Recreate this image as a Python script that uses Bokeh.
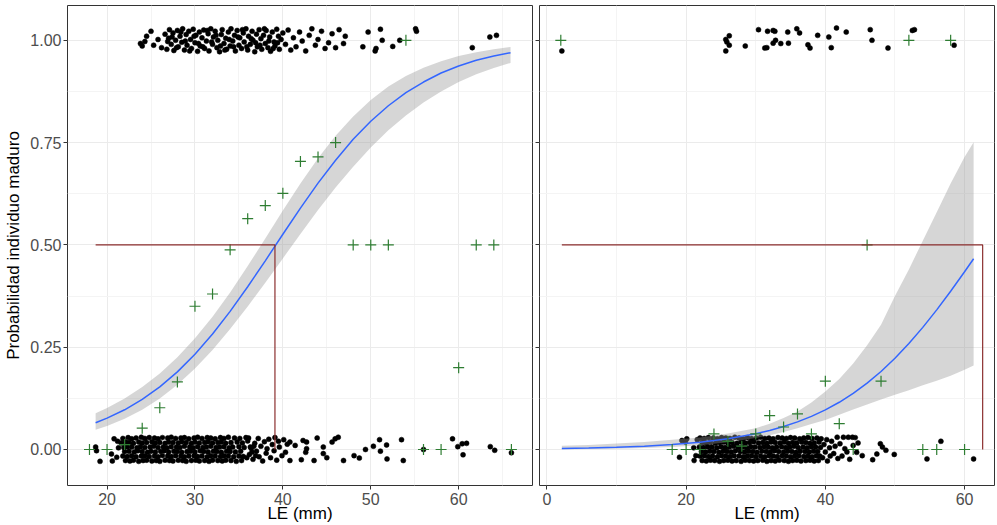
from bokeh.plotting import figure
from bokeh.layouts import row
from bokeh.models import Range1d, FixedTicker, NumeralTickFormatter
from bokeh.embed import file_html
from bokeh.resources import INLINE

# ---------------- data ----------------
y_ticks = [0.0, 0.25, 0.5, 0.75, 1.0]
y_tick_labels = ["0.00", "0.25", "0.50", "0.75", "1.00"]
y_minor = [0.125, 0.375, 0.625, 0.875]
xA_ticks = [20, 30, 40, 50, 60]
xA_minor = [25, 35, 45, 55, 65]
xB_ticks = [0, 20, 40, 60]
xB_minor = [10, 30, 50]

# observed proportion of mature individuals per 2-mm class
clase_A = [18, 20, 22, 24, 26, 28, 30, 32, 34, 36, 38, 40, 42, 44, 46, 48, 50, 52, 54, 56, 58, 60, 62, 64, 66]
prop_A = [0, 0, 0.012, 0.052, 0.102, 0.165, 0.35, 0.38, 0.488, 0.564, 0.596, 0.626, 0.704, 0.715, 0.75,
          0.5, 0.5, 0.5, 1.0, 0, 0, 0.2, 0.5, 0.5, 0]
clase_B = [2, 18, 20, 22, 24, 26, 28, 30, 32, 34, 36, 38, 40, 42, 44, 46, 48, 52, 54, 56, 58, 60]
prop_B = [1.0, 0, 0, 0.0, 0.038, 0.02, 0.008, 0.038, 0.083, 0.055, 0.087, 0.038, 0.167, 0.063, 0.0,
          0.5, 0.167, 1.0, 0, 0, 1.0, 0]

# fitted logistic curve and its confidence band
le_fit_A = [18.7, 20, 22, 24, 26, 28, 30, 32, 34, 36, 38, 40, 42, 44, 46, 48, 50, 52, 54, 56, 58, 60, 62, 64, 65.9]
p_fit_A = [.0655, .0766, .0970, .1224, .1529, .1897, .2327, .2821, .3375, .3977, .4611, .5260, .5900, .6510,
           .7070, .7580, .8020, .8400, .8720, .8980, .9200, .9370, .9510, .9615, .9696]
lo_A = [.0481, .0574, .0750, .0974, .1248, .1582, .1978, .2433, .2942, .3493, .4073, .4670, .5265, .5850,
        .6400, .6910, .7380, .7800, .8160, .8480, .8750, .8980, .9170, .9320, .9447]
hi_A = [.0884, .1014, .1245, .1527, .1860, .2255, .2717, .3245, .3839, .4482, .5157, .5840, .6500, .7120,
        .7670, .8140, .8540, .8870, .9130, .9330, .9490, .9616, .9710, .9780, .9835]

le_fit_B = [2.15, 6, 10, 14, 18, 22, 26, 30, 32, 34, 36, 38, 40, 42, 44, 46, 48, 50, 52, 54, 56, 58, 60, 61.3]
p_fit_B = [.0026, .0038, .0056, .0082, .0121, .0179, .0263, .0384, .0464, .0560, .0674, .0809, .0967, .1154,
           .1370, .1620, .1906, .2229, .2589, .2984, .3412, .3868, .4344, .4660]
lo_B = [.0007, .0012, .0020, .0035, .0062, .0105, .0175, .0280, .0350, .0430, .0520, .0620, .0720, .0850,
        .0980, .1100, .1220, .1340, .1450, .1570, .1680, .1800, .1950, .2050]
hi_B = [.0090, .0110, .0145, .0185, .0235, .0295, .0390, .0520, .0630, .0770, .0930, .1150, .1420, .1720,
        .2100, .2550, .3050, .3750, .4400, .5100, .5800, .6500, .7150, .7510]

# L50 reference lines (size at 50 % maturity)
l50_x_A = [18.7, 39.1, 39.1]
l50_y_A = [0.5, 0.5, 0.0]
l50_x_B = [2.15, 62.6, 62.6]
l50_y_B = [0.5, 0.5, 0.0]

# individual observations: "LE:jitter" (jitter in thousandths around 0 or 1)
inm_A = """
18.7:6 18.8:-3 19.2:-29 20.5:-11 20.6:-28 20.8:26 21.2:20 21.1:-19 21.3:4
21.8:27 22.4:29 22.8:26 23.3:28 23.9:30 24.3:27 24.8:29 25.4:28 25.8:26 26.3:29 26.9:28 27.3:30 27.8:27
28.4:28 28.8:29 29.3:26 29.9:28 30.3:30 30.8:27 31.4:29 31.8:28 32.3:26 32.9:29 33.3:27 33.8:30 34.5:28
35.1:27 35.8:29
21.6:16 22.1:18 22.5:17 23.0:15 23.6:18 24.0:16 24.5:17 25.1:19 25.5:16 26.0:17 26.6:15 27.0:18 27.5:17
28.1:16 28.5:19 29.0:17 29.6:15 30.0:18 30.5:16 31.1:17 31.5:19 32.0:16 32.6:17 33.0:18 33.5:15 34.1:17
34.8:18 35.4:16
21.9:5 22.3:7 22.8:6 23.4:4 23.8:7 24.3:5 24.9:6 25.3:8 25.8:5 26.4:6 26.8:4 27.3:7 27.9:6 28.3:5 28.8:8
29.4:6 29.8:4 30.3:7 30.9:5 31.3:6 31.8:8 32.4:5 32.8:6 33.3:7 33.9:4 34.3:6 35.0:7 35.6:5 36.3:6
22.0:-5 22.5:-4 23.1:-6 23.5:-3 24.0:-5 24.6:-7 25.0:-4 25.5:-6 26.1:-5 26.5:-3 27.0:-6 27.6:-4 28.0:-5
28.5:-7 29.1:-5 29.5:-4 30.0:-6 30.6:-3 31.0:-5 31.5:-6 32.1:-4 32.5:-5 33.0:-7 33.6:-4 34.0:-5 34.6:-6
35.2:-4
21.8:-16 22.3:-17 22.8:-15 23.3:-18 23.9:-16 24.3:-15 24.8:-17 25.4:-16 25.8:-18 26.3:-15 26.9:-16
27.3:-17 27.8:-15 28.4:-16 28.8:-18 29.3:-16 29.9:-15 30.3:-17 30.8:-16 31.4:-18 31.8:-15 32.3:-16
32.9:-17 33.3:-15 33.8:-16 34.4:-18 35.0:-16 35.5:-17
22.1:-27 22.6:-28 23.0:-26 23.6:-29 24.1:-27 24.5:-26 25.1:-28 25.6:-27 26.0:-29 26.6:-26 27.1:-27
27.5:-28 28.1:-26 28.6:-27 29.0:-29 29.6:-27 30.1:-26 30.5:-28 31.1:-27 31.6:-29 32.0:-26 32.6:-27
33.1:-28 33.5:-26 34.1:-27 34.7:-29 35.3:-27
36.0:21 36.2:-12 36.4:3 36.6:-24 36.8:15 37.0:-4 37.2:27 37.3:-18 37.5:8 37.7:-28 37.9:19 38.1:-9 38.2:2
38.4:25 38.6:-20 38.8:12 39.0:-3 39.1:29 39.3:-26 39.5:20 39.6:6 39.9:-15 40.1:24 40.3:-7 40.5:13
36.1:28 36.5:-6 36.9:-15 35.9:-20 36.7:8
40.8:18 41.4:10 40.8:-27 42.3:22 42.7:18 42.6:-7 42.7:2 42.1:-25 43.9:28 43.55:-27 44.6:6 44.6:-10
45.0:-20 45.6:18 45.95:26 46.3:30 46.9:-27 48.1:-15 48.7:-21 49.4:0 50.3:8 51.0:24 51.1:-4 51.8:11
51.85:-23 53.5:24 53.7:-27 56.0:0 59.3:26 59.9:7 60.4:14 60.5:-13 60.9:15 63.6:7 64.1:-2 66.0:-8
"""
mad_A = """
23.8:-8 24.0:-14 24.3:-3 24.5:10 25.0:22 25.3:-12 25.8:2 26.2:-18
26.6:15 26.8:-22 27.0:5 27.1:26 27.3:-10 27.5:18 27.6:-25 27.8:0 28.0:24 28.1:-16 28.3:10 28.5:-5 28.6:28
28.8:-24 29.0:14 29.1:-12 29.3:22 29.5:2 29.6:-20 29.8:27 30.0:-6 30.1:12 30.3:-27 30.5:20 30.6:-14
30.8:6 31.0:25 31.1:-20 31.3:-2 31.5:16 31.6:-26 31.8:28 32.0:-10 32.1:8 32.3:22 32.5:-18 32.6:0
32.8:-28 33.0:14 33.1:26 33.3:-8 33.5:5 33.6:-22 33.8:20 34.0:-14 34.1:28 34.3:-2 34.5:12 34.6:-26
34.8:24 35.0:-12 35.1:6 35.3:-20 35.5:18 35.6:-4 35.8:28 36.0:-24 36.1:10 36.3:-10 36.5:22 36.6:0
36.8:-28 37.0:15 37.1:-16 37.3:26 37.5:4 37.6:-22 37.8:12 38.0:-8 38.1:24 38.3:-18 38.5:8 38.6:-27
38.8:20 39.0:-4 39.1:-14 39.3:27 39.5:10 39.6:-22 39.8:2 40.0:18
26.9:-3 27.4:8 27.9:-18 28.4:20 28.9:-2 29.4:-26 29.9:10 30.4:-8 30.9:-16 31.4:24 31.9:-4 32.4:12
32.9:-14 33.4:-24 33.9:2 34.4:-16 34.9:8 35.4:26 35.9:-16 36.4:4 36.9:-6 37.4:-12 37.9:28 38.4:-2
38.9:-20 39.4:-6
40.3:-10 40.6:25 40.9:-24 41.2:6 41.5:-16 41.9:20 42.2:-2 42.6:-26 43.0:12 43.3:28 43.7:-12 44.0:2
44.4:22 44.8:-20 45.2:-6 45.6:16 46.0:-18 46.4:26 46.9:-8 47.1:10
49.1:-16 49.7:20 50.5:-26 50.6:-20 51.1:27 51.3:0 52.5:-15 53.3:0 55.1:28 55.2:22 61.55:-18 63.55:8
64.3:12
"""
inm_B = """
19.05:-19 19.4:22 19.9:18 20.1:26 21.1:4 21.15:-27 21.4:-15 21.6:24
22.0:28 22.6:27 23.2:29 23.9:28 24.5:26 25.1:29 25.7:28 26.3:27 27.0:30 27.6:28 28.2:26 28.8:29 29.4:27
30.1:28 30.7:30 31.3:27 31.9:28 32.5:26 33.2:29 33.8:28 34.4:27 35.0:29 35.6:28 36.3:26 36.9:28 37.5:29
38.1:27 38.8:28 39.4:26
22.3:17 22.9:16 23.5:18 24.2:15 24.8:17 25.4:18 26.0:16 26.6:17 27.3:15 27.9:18 28.5:16 29.1:17 29.7:19
30.4:16 31.0:17 31.6:15 32.2:18 32.8:17 33.5:16 34.1:18 34.7:15 35.3:17 35.9:16 36.6:18 37.2:17 37.8:15
38.4:16 39.1:18
21.9:6 22.5:5 23.1:7 23.7:6 24.4:4 25.0:7 25.6:5 26.2:6 26.8:8 27.5:5 28.1:6 28.7:4 29.3:7 29.9:6 30.6:5
31.2:7 31.8:6 32.4:4 33.0:6 33.7:7 34.3:5 34.9:6 35.5:8 36.1:5 36.8:6 37.4:4 38.0:7 38.6:6 39.3:5
22.2:-5 22.8:-6 23.4:-4 24.0:-5 24.7:-7 25.3:-4 25.9:-5 26.5:-6 27.1:-3 27.8:-5 28.4:-6 29.0:-4 29.6:-5
30.2:-7 30.9:-4 31.5:-5 32.1:-6 32.7:-3 33.3:-5 34.0:-6 34.6:-4 35.2:-5 35.8:-7 36.4:-4 37.1:-5 37.7:-6
38.3:-4 38.9:-5
22.0:-16 22.6:-15 23.2:-17 23.8:-16 24.5:-18 25.1:-15 25.7:-16 26.3:-17 26.9:-15 27.6:-16 28.2:-18
28.8:-16 29.4:-15 30.0:-17 30.7:-16 31.3:-18 31.9:-15 32.5:-16 33.1:-17 33.8:-15 34.4:-16 35.0:-18
35.6:-16 36.2:-15 36.9:-17 37.5:-16 38.1:-18 38.7:-15 39.2:-16
22.3:-27 22.9:-28 23.5:-26 24.1:-27 24.8:-29 25.4:-27 26.0:-26 26.6:-28 27.2:-27 27.9:-29 28.5:-26
29.1:-27 29.7:-28 30.3:-27 31.0:-26 31.6:-29 32.2:-27 32.8:-28 33.4:-26 34.1:-27 34.7:-29 35.3:-27
35.9:-26 36.5:-28 37.2:-27 37.8:-26 38.4:-28 39.0:-27
39.6:-20 39.8:12 40.0:-6 40.2:24 40.3:-28 40.6:4 40.7:-16 40.9:20 41.2:-10 41.4:8 41.7:30 41.8:-22
42.1:14 42.4:-16 42.6:30 42.8:2 43.1:-6 43.3:30 43.5:-24 43.9:30 44.0:10 44.3:29 44.5:-7 44.7:16
45.3:-15
46.8:-25 47.4:-11 47.9:14 48.2:6 48.7:-2 49.9:-12 54.6:-23 56.6:20 61.3:-23
"""
mad_B = """
2.15:-26 25.7:2 25.85:-4 26.2:11 26.2:-12 25.7:-26 28.5:-14 30.4:26 31.3:-19 31.6:-18 31.7:22 32.5:24
32.75:22 32.85:0 32.5:-7 33.6:-8 34.6:20 34.7:-7 35.9:28 36.3:18 37.5:-11 37.8:-19 38.9:12 40.5:8
40.85:-18 41.6:30 43.0:20 46.45:26 46.7:0 49.0:-19 52.5:24 52.8:26 58.5:-12
"""


def parse(text, base):
    xs, ys = [], []
    for tok in text.split():
        a, b = tok.split(":")
        xs.append(float(a))
        ys.append(base + int(b) / 1000.0)
    return xs, ys


FONT = "Liberation Sans"
H = 525
Y_RANGE = (-0.088, 1.085)


def panel(x_range, x_ticks, x_minor, width, mbl, mbr, show_y_labels):
    p = figure(width=width, height=H, x_range=Range1d(*x_range), y_range=Range1d(*Y_RANGE),
               output_backend="svg", toolbar_location=None,
               min_border_left=mbl, min_border_right=mbr, min_border_top=5, min_border_bottom=10)
    p.background_fill_color = "white"
    p.border_fill_color = "white"
    p.outline_line_color = "#333333"
    p.outline_line_width = 1

    xt = FixedTicker(ticks=x_ticks, minor_ticks=x_minor)
    yt = FixedTicker(ticks=y_ticks, minor_ticks=y_minor)
    p.xaxis.ticker = xt
    p.xgrid.ticker = xt
    p.yaxis.ticker = yt
    p.ygrid.ticker = yt
    for g in (p.xgrid, p.ygrid):
        g.grid_line_color = "#ebebeb"
        g.grid_line_width = 1
        g.minor_grid_line_color = "#f4f4f4"
        g.minor_grid_line_width = 1

    for ax in (p.xaxis, p.yaxis):
        ax.axis_line_color = None
        ax.major_tick_line_color = "#333333"
        ax.major_tick_out = 4
        ax.major_tick_in = 0
        ax.minor_tick_line_color = None
        ax.major_label_text_font = FONT
        ax.major_label_text_font_size = "16px"
        ax.major_label_text_color = "#4d4d4d"
        ax.axis_label_text_font = FONT
        ax.axis_label_text_font_size = "17px"
        ax.axis_label_text_font_style = "normal"
        ax.axis_label_text_color = "black"

    p.xaxis.axis_label = "LE (mm)"
    p.xaxis.major_label_standoff = 3
    p.xaxis.axis_label_standoff = -4
    p.yaxis.formatter = NumeralTickFormatter(format="0.00")
    if show_y_labels:
        p.yaxis.major_label_overrides = dict(zip(y_ticks, y_tick_labels))
        p.yaxis.major_label_standoff = 2
        p.yaxis.axis_label = "Probabilidad individuo maduro"
        p.yaxis.axis_label_standoff = 4
    else:
        p.yaxis.major_label_overrides = {t: "" for t in y_ticks}
        p.yaxis.major_label_standoff = 0
    return p


def draw(p, inm, mad, le_fit, p_fit, lo, hi, clase, prop, l50x, l50y):
    xi, yi = parse(inm, 0.0)
    xm, ym = parse(mad, 1.0)
    p.scatter(xi, yi, size=5, fill_color="black", line_color="black", line_width=0.5)
    p.scatter(xm, ym, size=5, fill_color="black", line_color="black", line_width=0.5)
    p.varea(x=le_fit, y1=lo, y2=hi, fill_color="#999999", fill_alpha=0.4)
    p.line(le_fit, p_fit, line_color="#3366FF", line_width=1.5)
    p.scatter(clase, prop, marker="cross", size=11, line_color="#2e7d32", line_width=1.2)
    p.line(l50x, l50y, line_color="#8b2e2e", line_width=1.2)


pA = panel((15.5, 68.4), xA_ticks, xA_minor, 535, 67, 3, True)
draw(pA, inm_A, mad_A, le_fit_A, p_fit_A, lo_A, hi_A, clase_A, prop_A, l50_x_A, l50_y_A)

pB = panel((-1.06, 64.3), xB_ticks, xB_minor, 461, 4, 2, False)
draw(pB, inm_B, mad_B, le_fit_B, p_fit_B, lo_B, hi_B, clase_B, prop_B, l50_x_B, l50_y_B)

layout = row(pA, pB)
open("out.html", "w").write(file_html(layout, INLINE))
